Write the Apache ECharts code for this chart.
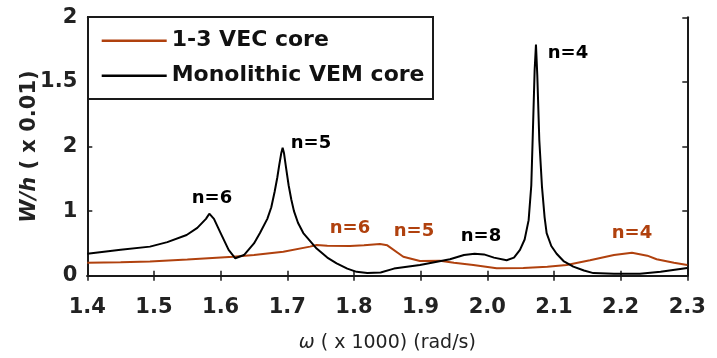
<!DOCTYPE html>
<html>
<head>
<meta charset="utf-8">
<script src="https://cdn.jsdelivr.net/npm/echarts@6/dist/echarts.min.js"></script>
<style>
  html, body { margin: 0; padding: 0; background: #fff; }
  #chart { width: 717px; height: 358px; }
</style>
</head>
<body>
<div id="chart"></div>
<script>
// Frequency response of the two sandwich cores, W/h versus omega
const vecFreq = [1.400, 1.450, 1.494, 1.550, 1.619, 1.650, 1.694, 1.734, 1.744, 1.760, 1.794, 1.815, 1.839, 1.850, 1.874, 1.899, 1.929, 1.950, 1.979, 2.014, 2.054, 2.090, 2.119, 2.154, 2.190, 2.217, 2.240, 2.254, 2.280, 2.300];
const vecWh   = [0.100, 0.105, 0.110, 0.125, 0.147, 0.160, 0.186, 0.225, 0.238, 0.232, 0.230, 0.235, 0.245, 0.235, 0.147, 0.114, 0.116, 0.100, 0.083, 0.057, 0.060, 0.070, 0.083, 0.120, 0.160, 0.178, 0.155, 0.127, 0.100, 0.083];

const vemFreq = [1.400, 1.450, 1.494, 1.520, 1.549, 1.565, 1.578, 1.583, 1.590, 1.600, 1.612, 1.622, 1.635, 1.650, 1.659, 1.670, 1.676, 1.681, 1.685, 1.688, 1.691, 1.693, 1.695, 1.698, 1.702, 1.706, 1.710, 1.716, 1.724, 1.744, 1.760, 1.774, 1.790, 1.804, 1.820, 1.840, 1.860, 1.899, 1.944, 1.965, 1.981, 1.995, 2.010, 2.029, 2.040, 2.049, 2.056, 2.062, 2.066, 2.068, 2.071, 2.073, 2.075, 2.078, 2.082, 2.086, 2.089, 2.096, 2.104, 2.115, 2.129, 2.145, 2.159, 2.190, 2.229, 2.260, 2.300];
const vemWh   = [0.170, 0.200, 0.225, 0.260, 0.315, 0.370, 0.440, 0.480, 0.440, 0.330, 0.200, 0.135, 0.160, 0.250, 0.330, 0.440, 0.530, 0.650, 0.760, 0.860, 0.950, 0.990, 0.950, 0.840, 0.700, 0.590, 0.500, 0.410, 0.330, 0.210, 0.140, 0.096, 0.055, 0.030, 0.020, 0.025, 0.055, 0.083, 0.127, 0.160, 0.170, 0.165, 0.140, 0.120, 0.140, 0.200, 0.280, 0.430, 0.700, 1.050, 1.590, 1.790, 1.550, 1.050, 0.690, 0.450, 0.330, 0.230, 0.170, 0.110, 0.070, 0.040, 0.020, 0.015, 0.015, 0.030, 0.060];

// Axis tick text
const xTickLabels = ['1.4', '1.5', '1.6', '1.7', '1.8', '1.9', '2.0', '2.1', '2.2', '2.3'];
const yTickLabels = ['0', '1', '2', '1.5', '2'];

// Mode-number annotations: [omega, W/h, text]
const vecModes = [[1.794, 0.369, 'n=6'], [1.890, 0.341, 'n=5'], [2.217, 0.328, 'n=4']];
const vemModes = [[1.587, 0.600, 'n=6'], [1.7355, 1.025, 'n=5'], [1.9905, 0.302, 'n=8'], [2.121, 1.721, 'n=4']];

const seriesNames = ['1-3 VEC core', 'Monolithic VEM core'];
const VEC_COLOR = '#B0410E';
const VEM_COLOR = '#000000';
const FONT = 'DejaVu Sans';

const zip = (xs, ys) => xs.map((x, i) => [x, ys[i]]);
const modePoints = (modes) => modes.map(m => ({ coord: [m[0], m[1]], name: m[2] }));

const chart = echarts.init(document.getElementById('chart'), null, { renderer: 'canvas' });

const axisLine = { show: true, lineStyle: { color: '#1a1a1a', width: 2 } };
const axisTick = { show: true, inside: true, length: 5, lineStyle: { color: '#1a1a1a', width: 1.5 } };

const markLabel = (color) => ({
  show: true, position: 'inside', formatter: '{b}',
  color: color, fontFamily: FONT, fontWeight: 'bold', fontSize: 18
});

chart.setOption({
  animation: false,
  backgroundColor: '#fff',
  grid: { left: 87.3, right: 29.7, top: 17.3, bottom: 82.3, containLabel: false },
  legend: {
    data: seriesNames,
    orient: 'vertical',
    left: 101.7, top: 29.7,
    padding: 0,
    icon: 'rect',
    itemWidth: 65, itemHeight: 2.5, itemGap: 13,
    z: 20,
    textStyle: { fontFamily: FONT, fontWeight: 'bold', fontSize: 22, lineHeight: 22, color: '#111' }
  },
  graphic: [{
    type: 'rect', z: 10,
    shape: { x: 88, y: 17, width: 345, height: 82 },
    style: { fill: '#fff', stroke: '#1a1a1a', lineWidth: 2 }
  }],
  xAxis: [{
    type: 'value', min: 1.4, max: 2.3, interval: 0.1,
    position: 'bottom',
    axisLine, axisTick, splitLine: { show: false },
    axisLabel: {
      margin: 21, color: '#222', fontFamily: FONT, fontWeight: 'bold', fontSize: 21,
      formatter: (v) => xTickLabels[Math.round((v - 1.4) / 0.1)]
    },
    name: '{w|ω} ( x 1000) (rad/s)',
    nameLocation: 'middle', nameGap: 58, nameMoveOverlap: false,
    nameTextStyle: {
      color: '#222', fontFamily: FONT, fontSize: 19,
      rich: { w: { fontFamily: FONT, fontStyle: 'italic', fontSize: 19, color: '#222' } }
    }
  }, {
    type: 'value', min: 1.4, max: 2.3, interval: 0.1,
    position: 'top',
    axisLine, axisTick, splitLine: { show: false }, axisLabel: { show: false }
  }],
  yAxis: [{
    type: 'value', min: 0, max: 2, interval: 0.5,
    position: 'left',
    axisLine, axisTick, splitLine: { show: false },
    axisLabel: {
      margin: 10, color: '#222', fontFamily: FONT, fontWeight: 'bold', fontSize: 21,
      formatter: (v) => yTickLabels[Math.round(v / 0.5)]
    },
    name: '{i|W/h} ( x 0.01)',
    nameLocation: 'middle', nameGap: 47, nameMoveOverlap: false,
    nameTextStyle: {
      color: '#222', fontFamily: FONT, fontWeight: 'bold', fontSize: 21,
      rich: { i: { fontFamily: FONT, fontStyle: 'italic', fontWeight: 'bold', fontSize: 21, color: '#222' } }
    }
  }, {
    type: 'value', min: 0, max: 2, interval: 0.5,
    position: 'right',
    axisLine, axisTick, splitLine: { show: false }, axisLabel: { show: false }
  }],
  series: [{
    name: seriesNames[0], type: 'line', xAxisIndex: 0, yAxisIndex: 0,
    data: zip(vecFreq, vecWh),
    symbol: 'none', z: 3,
    lineStyle: { color: VEC_COLOR, width: 2 }, itemStyle: { color: VEC_COLOR },
    markPoint: { symbol: 'circle', symbolSize: 0, silent: true, label: markLabel(VEC_COLOR), data: modePoints(vecModes) }
  }, {
    name: seriesNames[1], type: 'line', xAxisIndex: 0, yAxisIndex: 0,
    data: zip(vemFreq, vemWh),
    symbol: 'none', z: 4,
    lineStyle: { color: VEM_COLOR, width: 2 }, itemStyle: { color: VEM_COLOR },
    markPoint: { symbol: 'circle', symbolSize: 0, silent: true, label: markLabel(VEM_COLOR), data: modePoints(vemModes) }
  }]
});
</script>
</body>
</html>
